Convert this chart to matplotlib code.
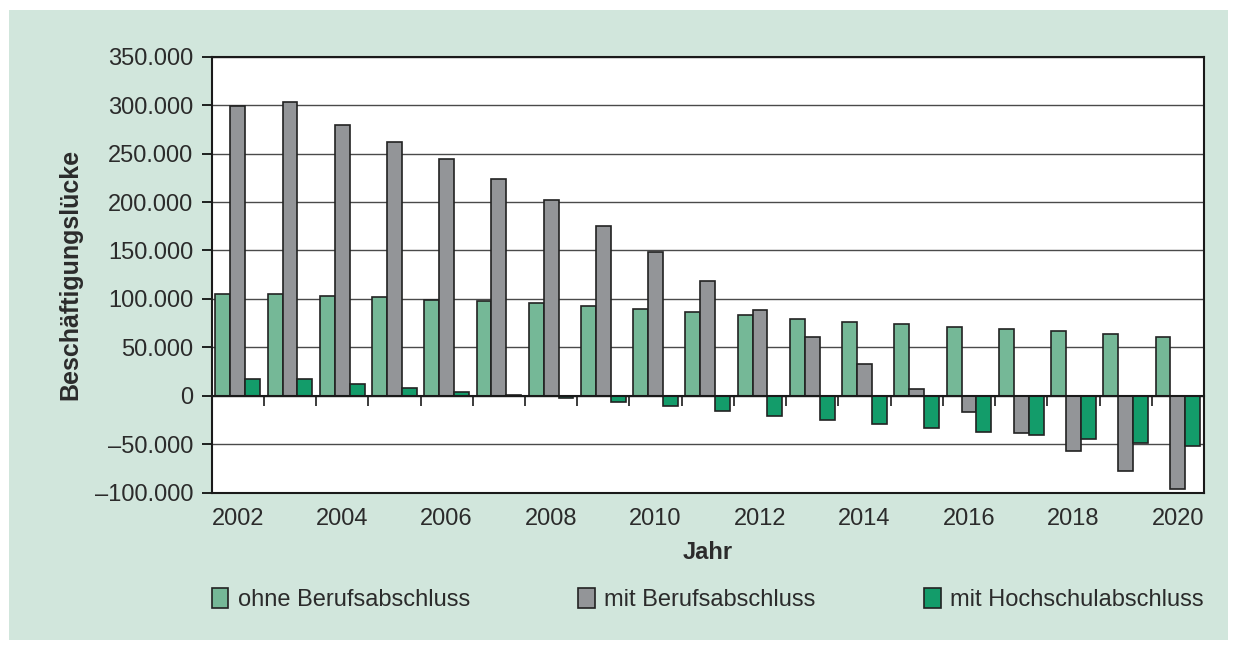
import numpy as np
import matplotlib
matplotlib.use("Agg")
import matplotlib.pyplot as plt
from matplotlib.patches import Rectangle
from matplotlib.ticker import FuncFormatter

years = list(range(2002, 2021))
ohne = [105000, 105600, 103000, 101500, 99400, 97500, 95500, 93000, 89600, 86500,
        83000, 79500, 76700, 74200, 71200, 68500, 66400, 63700, 61200]
mit = [298700, 302800, 279500, 262000, 244400, 224000, 202400, 175300, 148000, 118900,
       89000, 61200, 33300, 6900, -16900, -38200, -57400, -77400, -96000]
hoch = [17000, 17000, 12000, 8200, 4000, 800, -2000, -6500, -11000, -15800,
        -20600, -24800, -29200, -33400, -37500, -40900, -44700, -48200, -51300]
labels = ["ohne Berufsabschluss", "mit Berufsabschluss", "mit Hochschulabschluss"]
colors = ["#75b897", "#939598", "#139c6a"]

plt.rcParams['font.family'] = ['Liberation Sans', 'DejaVu Sans']
txt = "#2b2b2b"

fig = plt.figure(figsize=(12.37, 6.46), dpi=100)
fig.patch.set_facecolor("white")
fig.patches.append(Rectangle((9 / 1237, 6 / 646), 1219 / 1237, 630 / 646,
                             transform=fig.transFigure, facecolor="#d1e6dc",
                             edgecolor="none", zorder=-10))

ax = fig.add_axes([0.1711, 0.2373, 0.8022, 0.6749])
ax.set_facecolor("white")

x = np.arange(len(years))
w = 0.285
for i, (vals, lab, col) in enumerate(zip([ohne, mit, hoch], labels, colors)):
    ax.bar(x + (i - 1) * w, vals, width=w, color=col, edgecolor="#222222",
           linewidth=1.2, label=lab, zorder=3)

ax.set_xlim(-0.5, len(years) - 0.5)
ax.set_ylim(-100000, 350000)
ax.set_yticks(np.arange(-100000, 350001, 50000))


def fmt(v, pos):
    if v == 0:
        return "0"
    s = f"{abs(v):,.0f}".replace(",", ".")
    return ("\u2013" + s) if v < 0 else s


ax.yaxis.set_major_formatter(FuncFormatter(fmt))
ax.grid(axis="y", color="#4a4a4a", linewidth=1.0, zorder=1)
ax.set_axisbelow(True)

ax.set_xticks(x[::2])
ax.set_xticklabels([str(y) for y in years[::2]])
ax.tick_params(axis="x", length=0, pad=11, labelsize=17, labelcolor=txt)
ax.tick_params(axis="y", length=7, width=1.2, pad=6, labelsize=17, labelcolor=txt)
for sp in ax.spines.values():
    sp.set_linewidth(1.5)
    sp.set_color("#1a1a1a")

# category boundary ticks on the zero line
ax2 = ax.twiny()
ax2.set_xlim(ax.get_xlim())
ax2.spines['top'].set_visible(False)
ax2.spines['left'].set_visible(False)
ax2.spines['right'].set_visible(False)
ax2.spines['bottom'].set_position(('data', 0))
ax2.spines['bottom'].set_linewidth(1.5)
ax2.spines['bottom'].set_color("#1a1a1a")
ax2.spines['bottom'].set_zorder(5)
ax2.xaxis.set_ticks_position('bottom')
ax2.set_xticks(np.arange(-0.5, len(years), 1.0))
ax2.set_xticklabels([])
ax2.tick_params(axis="x", length=7, width=1.2, color="#1a1a1a")

ax.set_xlabel("Jahr", fontsize=17, fontweight="bold", color=txt, labelpad=8)
ax.set_ylabel("Beschäftigungslücke", fontsize=18, fontweight="bold", color=txt, labelpad=9)

leg = ax.legend(loc="center", bbox_to_anchor=(0, -0.27, 1, 0.05), ncol=3, mode="expand",
                frameon=False, fontsize=17, borderaxespad=0, borderpad=0,
                handlelength=0.7, handleheight=0.9, handletextpad=0.4)
for t in leg.get_texts():
    t.set_color(txt)

fig.savefig("out.png", dpi=100, facecolor=fig.get_facecolor())
